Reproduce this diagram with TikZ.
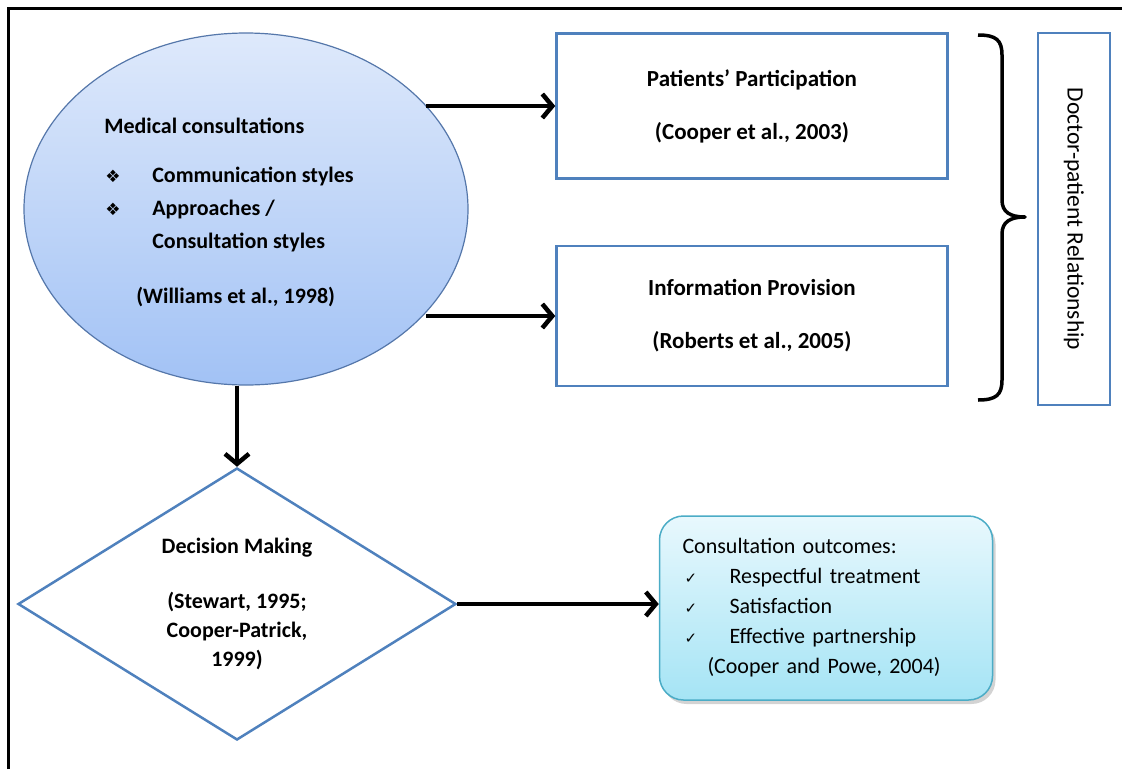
\documentclass[tikz,border=0pt]{standalone}
\usepackage{fontspec}
\setmainfont{Carlito}
\newfontfamily\symbolfont{DejaVu Sans}
\usepackage{tikz}
\usetikzlibrary{arrows.meta,shapes.geometric,shadows}
\definecolor{dp-edge}{HTML}{4F81BD}
\definecolor{dp-ring}{HTML}{5577AA}
\definecolor{dp-sky-top}{HTML}{DEE9FB}
\definecolor{dp-sky-bot}{HTML}{A2C2F5}
\definecolor{dp-teal}{HTML}{4BACC6}
\definecolor{dp-aqua-top}{HTML}{E8F8FD}
\definecolor{dp-aqua-bot}{HTML}{A5E4F5}

\begin{document}
\begin{tikzpicture}[x=1pt, y=-1pt,
    font=\fontsize{22}{26}\selectfont\bfseries,
    refbox/.style={draw=dp-edge, line width=2.5pt, rectangle, align=center,
        minimum width=391pt, minimum height=145pt, font=\fontsize{23}{26}\selectfont\bfseries},
    link/.style={line width=4.5pt, -{Straight Barb[length=10pt,width=24pt]}}]
    \useasboundingbox (0,0) rectangle (1122,769);
    % frame, only top and left sides are visible
    \draw[line width=3pt] (8,769) -- (8,8) -- (1122,8);

    \node[draw=dp-ring, line width=1.2pt, ellipse, top color=dp-sky-top, bottom color=dp-sky-bot,
        minimum width=444pt, minimum height=352pt] (consult) at (246,209) {};
    \node[align=left, font=\fontsize{22}{33}\selectfont\bfseries] (consultlbl) at (229,212)
        {Medical consultations\\[16pt]
         \hspace*{1pt}\makebox[47pt][l]{\symbolfont\fontsize{17}{17}\selectfont ❖}Communication styles\\
         \hspace*{1pt}\makebox[47pt][l]{\symbolfont\fontsize{17}{17}\selectfont ❖}Approaches /\\
         \hspace*{48pt}Consultation styles\\[22pt]
         \hspace*{32pt}(Williams et al., 1998)};

    \node[refbox] (partic) at (752,106) {Patients’ Participation\\[27pt](Cooper et al., 2003)};
    \node[refbox, minimum height=140pt] (inform) at (752,316) {Information Provision\\[27pt](Roberts et al., 2005)};

    \node[draw=dp-edge, line width=2.5pt, rotate=-90, minimum width=372pt, minimum height=72pt,
        font=\fontsize{23.5}{26}\selectfont] (relation) at (1074,219) {Doctor-patient Relationship};
    % the bracket grouping both boxes
    \draw[line width=3.5pt, line join=round]
        (978,35) .. controls (996,35) and (1002,40) .. (1002,55) -- (1002,200)
        .. controls (1002,212) and (1010,217) .. (1025,217)
        .. controls (1010,217) and (1002,222) .. (1002,234) -- (1002,380)
        .. controls (1002,395) and (996,400) .. (978,400);

    \node[draw=dp-edge, line width=2.5pt, diamond, aspect=1.6, minimum width=438pt, minimum height=272pt,
        inner sep=0pt, align=center, font=\fontsize{22}{29}\selectfont\bfseries] (decide) at (237,604)
        {Decision Making\\[26pt](Stewart, 1995;\\Cooper-Patrick,\\1999)};

    \node[draw=dp-teal, line width=1.5pt, rounded corners=24pt, top color=dp-aqua-top, bottom color=dp-aqua-bot,
        drop shadow={opacity=0.35, shadow xshift=3pt, shadow yshift=-4pt},
        minimum width=333pt, minimum height=184pt, inner xsep=23pt, text width=287pt, align=left,
        font=\fontsize{22}{30}\selectfont] (outcome) at (826,608)
        {Consultation outcomes:\\
         \makebox[47pt][l]{\hspace*{2pt}\symbolfont\fontsize{15}{15}\selectfont ✓}Respectful treatment\\
         \makebox[47pt][l]{\hspace*{2pt}\symbolfont\fontsize{15}{15}\selectfont ✓}Satisfaction\\
         \makebox[47pt][l]{\hspace*{2pt}\symbolfont\fontsize{15}{15}\selectfont ✓}Effective partnership\\
         \hspace*{25pt}(Cooper and Powe, 2004)};

    \draw[link] (consult.30 |- partic.west) -- (partic.west);
    \draw[link] (consult.-30 |- inform.west) -- (inform.west);
    \draw[link] (decide.north |- consult.south) -- (decide.north);
    \draw[link] (decide.east) -- (decide.east -| outcome.west);
\end{tikzpicture}
\end{document}
